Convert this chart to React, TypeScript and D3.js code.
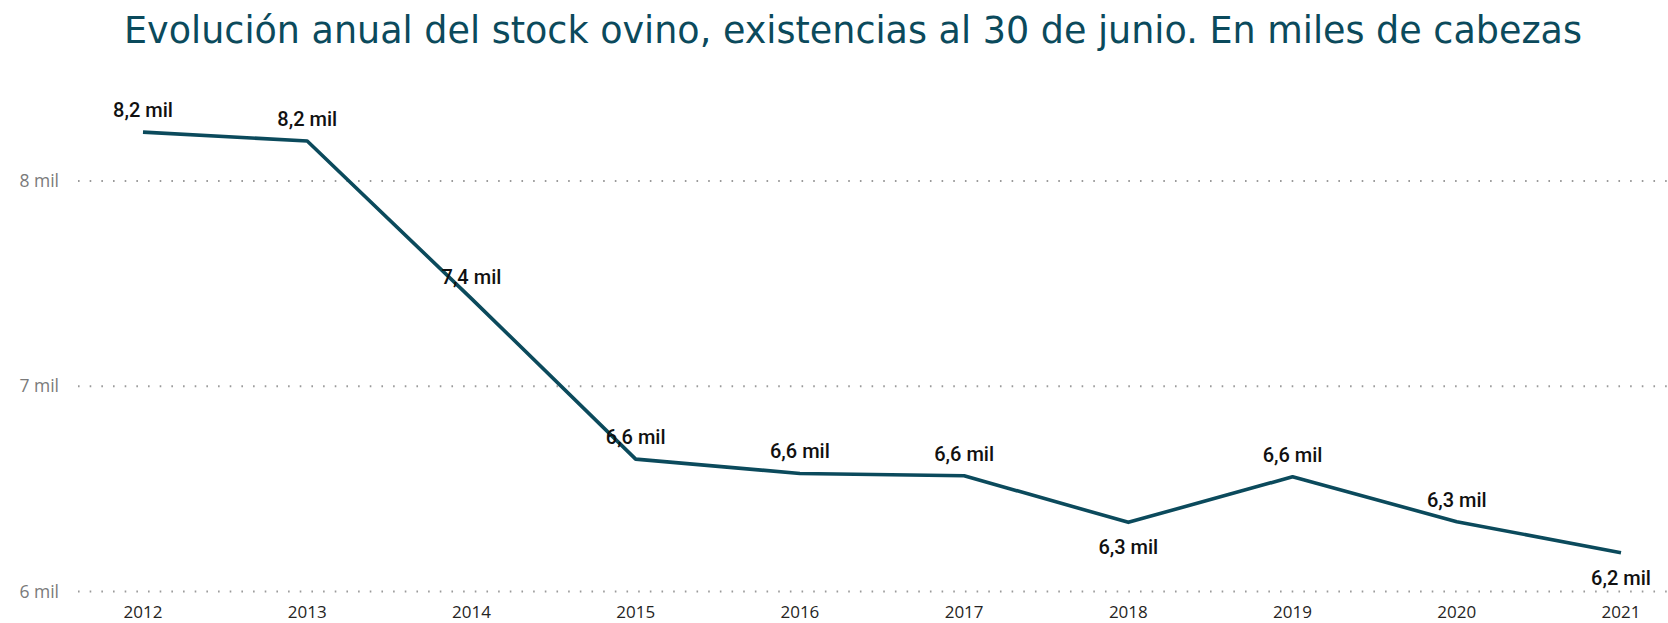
import React from "react";
import * as d3 from "d3";

// existencias al 30 de junio, miles de cabezas
const years = ["2012", "2013", "2014", "2015", "2016", "2017", "2018", "2019", "2020", "2021"];
const stock = [8238, 8195, 7427, 6645, 6575, 6564, 6337, 6559, 6340, 6189];
const yTicks = [6000, 7000, 8000];

const title = "Evolución anual del stock ovino, existencias al 30 de junio. En miles de cabezas";

const width = 1668;
const height = 623;
const teal = "#0b4a5c";

const fmtTick = (v: number) => `${v / 1000} mil`;
const fmtLabel = (v: number) => `${(v / 1000).toFixed(1).replace(".", ",")} mil`;

const App = () => {
  const x = d3.scalePoint<string>().domain(years).range([143, 1621]);
  const y = d3.scaleLinear().domain([6000, 8000]).range([591.5, 181]);

  const data = years.map((yr, i) => ({ year: yr, value: stock[i] }));

  const line = d3
    .line<{ year: string; value: number }>()
    .x((d) => x(d.year)!)
    .y((d) => y(d.value));

  // label goes under the point when it is a local low
  const below = (i: number) => {
    const prev = i > 0 ? stock[i - 1] : -Infinity;
    const next = i < stock.length - 1 ? stock[i + 1] : Infinity;
    return i > 0 && stock[i] < prev && stock[i] < next;
  };

  return (
    <div style={{ position: "absolute", left: 0, top: 0 }}>
      <svg width={width} height={height} style={{ display: "block", background: "#fff" }}>
        <text
          x={853}
          y={43}
          textAnchor="middle"
          fill={teal}
          style={{ fontFamily: "'DejaVu Sans', sans-serif", fontSize: 36.5 }}
        >
          {title}
        </text>

        <g className="y-axis">
          {yTicks.map((t) => (
            <g key={t}>
              <line
                x1={78}
                x2={width}
                y1={y(t)}
                y2={y(t)}
                stroke="#9a9a9a"
                strokeWidth={2}
                strokeDasharray="1.6 10.07"
              />
              <text
                x={59}
                y={y(t) + 6}
                textAnchor="end"
                fill="#7a7a7a"
                style={{ fontFamily: "'Open Sans', sans-serif", fontSize: 17.5 }}
              >
                {fmtTick(t)}
              </text>
            </g>
          ))}
        </g>

        <g className="x-axis">
          {years.map((yr) => (
            <text
              key={yr}
              x={x(yr)}
              y={618}
              textAnchor="middle"
              fill="#252423"
              style={{ fontFamily: "'Open Sans', sans-serif", fontSize: 17 }}
            >
              {yr}
            </text>
          ))}
        </g>

        <path d={line(data) ?? ""} fill="none" stroke={teal} strokeWidth={3.6} strokeLinejoin="round" />

        <g className="labels">
          {data.map((d, i) => (
            <text
              key={d.year}
              x={x(d.year)}
              y={y(d.value) + (below(i) ? 32 : -15)}
              textAnchor="middle"
              fill="#111"
              style={{ fontFamily: "Roboto, sans-serif", fontSize: 20, fontWeight: 500 }}
            >
              {fmtLabel(d.value)}
            </text>
          ))}
        </g>
      </svg>
    </div>
  );
};

export default App;
